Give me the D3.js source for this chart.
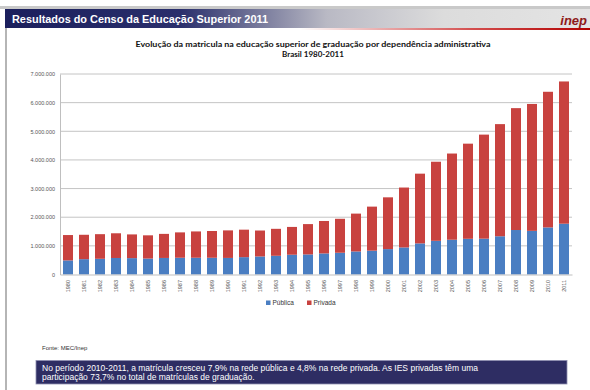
<!DOCTYPE html>
<html><head><meta charset="utf-8">
<script src="https://cdn.jsdelivr.net/npm/d3@7"></script>
<style>html,body{margin:0;padding:0;background:#fff;}svg{display:block;}</style>
</head><body>
<svg id="c" width="590" height="390"></svg>
<script>
const years = ["1980","1981","1982","1983","1984","1985","1986","1987","1988","1989","1990","1991","1992","1993","1994","1995","1996","1997","1998","1999","2000","2001","2002","2003","2004","2005","2006","2007","2008","2009","2010","2011"];
const publica = [492232,535810,548388,576689,571879,556680,577632,584965,585351,584414,578625,605736,629662,653516,690450,700540,735427,759182,804729,832022,887026,944584,1085977,1176174,1214317,1246704,1251365,1335177,1552953,1523864,1643298,1773315];
const privada = [885054,850982,859599,862303,827660,810929,840564,885590,918204,934490,961455,959320,906126,941152,970584,1059163,1133102,1186433,1321229,1537923,1807219,2091529,2434650,2760759,3009027,3321094,3632487,3914970,4255064,4430157,4736001,4966374];
const yTicks = [0,1000000,2000000,3000000,4000000,5000000,6000000,7000000];
const seriesNames = ["Pública","Privada"];
const colors = ["#4a7ec2","#c8423f"];

const svg = d3.select("#c");
const defs = svg.append("defs");
const hg = defs.append("linearGradient").attr("id","hg").attr("x1","0").attr("x2","1");
hg.append("stop").attr("offset","0").attr("stop-color","#1b1f5c");
hg.append("stop").attr("offset","0.3").attr("stop-color","#2a2f6c");
hg.append("stop").attr("offset","0.55").attr("stop-color","#b9b9c4");
hg.append("stop").attr("offset","0.75").attr("stop-color","#dcdcdc");
hg.append("stop").attr("offset","1").attr("stop-color","#e4e4e4");
const rg = defs.append("linearGradient").attr("id","rg").attr("x1","0").attr("x2","1");
rg.append("stop").attr("offset","0").attr("stop-color","#c00000").attr("stop-opacity",0);
rg.append("stop").attr("offset","0.6").attr("stop-color","#c00000").attr("stop-opacity",0.7);
rg.append("stop").attr("offset","1").attr("stop-color","#b00000").attr("stop-opacity",1);

// frame
svg.append("rect").attr("x",0).attr("y",6).attr("width",590).attr("height",3).attr("fill","#c9c9c9");
svg.append("rect").attr("x",5).attr("y",28).attr("width",2).attr("height",362).attr("fill","#b5b5b5");
// header
svg.append("rect").attr("x",5).attr("y",9).attr("width",585).attr("height",19).attr("fill","url(#hg)");
svg.append("rect").attr("x",300).attr("y",28).attr("width",290).attr("height",2).attr("fill","url(#rg)");
svg.append("text").attr("x",12).attr("y",23).attr("fill","#fff")
  .attr("font-family","Liberation Sans, Arial, sans-serif").attr("font-weight","bold").attr("font-size",11)
  .attr("textLength",256).attr("lengthAdjust","spacingAndGlyphs")
  .text("Resultados do Censo da Educação Superior 2011");
svg.append("text").attr("x",587).attr("y",25).attr("text-anchor","end").attr("fill","#8e1a1a")
  .attr("font-family","Liberation Sans, Arial, sans-serif").attr("font-weight","bold").attr("font-style","italic").attr("font-size",13)
  .text("inep");

// chart title
const tfont = "Lato, 'Open Sans', sans-serif";
svg.append("text").attr("x",313).attr("y",47).attr("text-anchor","middle").attr("fill","#111")
  .attr("font-family",tfont).attr("font-weight","bold").attr("font-size",8)
  .attr("textLength",355).attr("lengthAdjust","spacingAndGlyphs")
  .text("Evolução da matricula na educação superior de graduação por dependência administrativa");
svg.append("text").attr("x",313).attr("y",57).attr("text-anchor","middle").attr("fill","#111")
  .attr("font-family",tfont).attr("font-weight","bold").attr("font-size",8)
  .text("Brasil 1980-2011");

// scales
const x = d3.scaleBand().domain(years).range([60,572]).paddingInner(0.375).paddingOuter(0.1875);
const y = d3.scaleLinear().domain([0,7000000]).range([274.5,74]);
const loc = d3.formatLocale({decimal:",",thousands:".",grouping:[3],currency:["",""]});
const fmt = loc.format(",d");

// gridlines
svg.append("g").selectAll("line").data(yTicks.filter(d=>d>0)).join("line")
  .attr("x1",60).attr("x2",572).attr("y1",d=>y(d)).attr("y2",d=>y(d))
  .attr("stroke","#c4c4c4").attr("stroke-width",1);

// stacked bars
const rows = years.map((yr,i)=>({year:yr,"Pública":publica[i],"Privada":privada[i]}));
const stack = d3.stack().keys(seriesNames)(rows);
svg.append("g").selectAll("g").data(stack).join("g").attr("fill",(d,i)=>colors[i])
  .selectAll("rect").data(d=>d).join("rect")
  .attr("x",d=>x(d.data.year)).attr("width",x.bandwidth())
  .attr("y",d=>y(d[1])).attr("height",d=>y(d[0])-y(d[1]));

// y axis
const ya = d3.axisLeft(y).tickValues(yTicks).tickFormat(fmt).tickSize(0).tickPadding(5);
const yg = svg.append("g").attr("transform","translate(60,0)").call(ya);
yg.select(".domain").attr("stroke","#bfbfbf");
yg.selectAll("text").attr("font-family","Liberation Sans, Arial, sans-serif").attr("font-size",5.5).attr("fill","#555");

// x axis
const xa = d3.axisBottom(x).tickSize(0).tickPadding(0);
const xg = svg.append("g").attr("transform","translate(0,274.5)").call(xa);
xg.select(".domain").attr("stroke","#bfbfbf");
xg.selectAll(".tick text").attr("font-family","Liberation Sans, Arial, sans-serif").attr("font-size",5.5).attr("fill","#555")
  .attr("x",0).attr("y",0).attr("dy","0.35em").attr("text-anchor","end")
  .attr("transform","translate(0,5.5) rotate(-90)");

// legend
const lg = svg.append("g").attr("font-family","Liberation Sans, Arial, sans-serif").attr("font-size",6.5).attr("fill","#333");
const lx = [266,307];
seriesNames.forEach((n,i)=>{
  lg.append("rect").attr("x",lx[i]).attr("y",300.5).attr("width",4.5).attr("height",4.5).attr("fill",colors[i]);
  lg.append("text").attr("x",lx[i]+6.5).attr("y",305).attr("fill","#333").text(n);
});

// source
svg.append("text").attr("x",42).attr("y",350).attr("font-family","Liberation Sans, Arial, sans-serif")
  .attr("font-size",6).attr("fill","#333").text("Fonte: MEC/Inep");

// note box
svg.append("rect").attr("x",36).attr("y",360.5).attr("width",531).attr("height",23.5)
  .attr("fill","#2e2d63").attr("stroke","#8e8eb0").attr("stroke-width",0.8);
const nt = svg.append("g").attr("font-family","Liberation Sans, Arial, sans-serif").attr("font-size",8.5).attr("fill","#fff");
nt.append("text").attr("x",42).attr("y",370.5).text("No período 2010-2011, a matrícula cresceu 7,9% na rede pública e 4,8% na rede privada. As IES privadas têm uma");
nt.append("text").attr("x",42).attr("y",380).text("participação 73,7% no total de matrículas de graduação.");
</script>
</body></html>
